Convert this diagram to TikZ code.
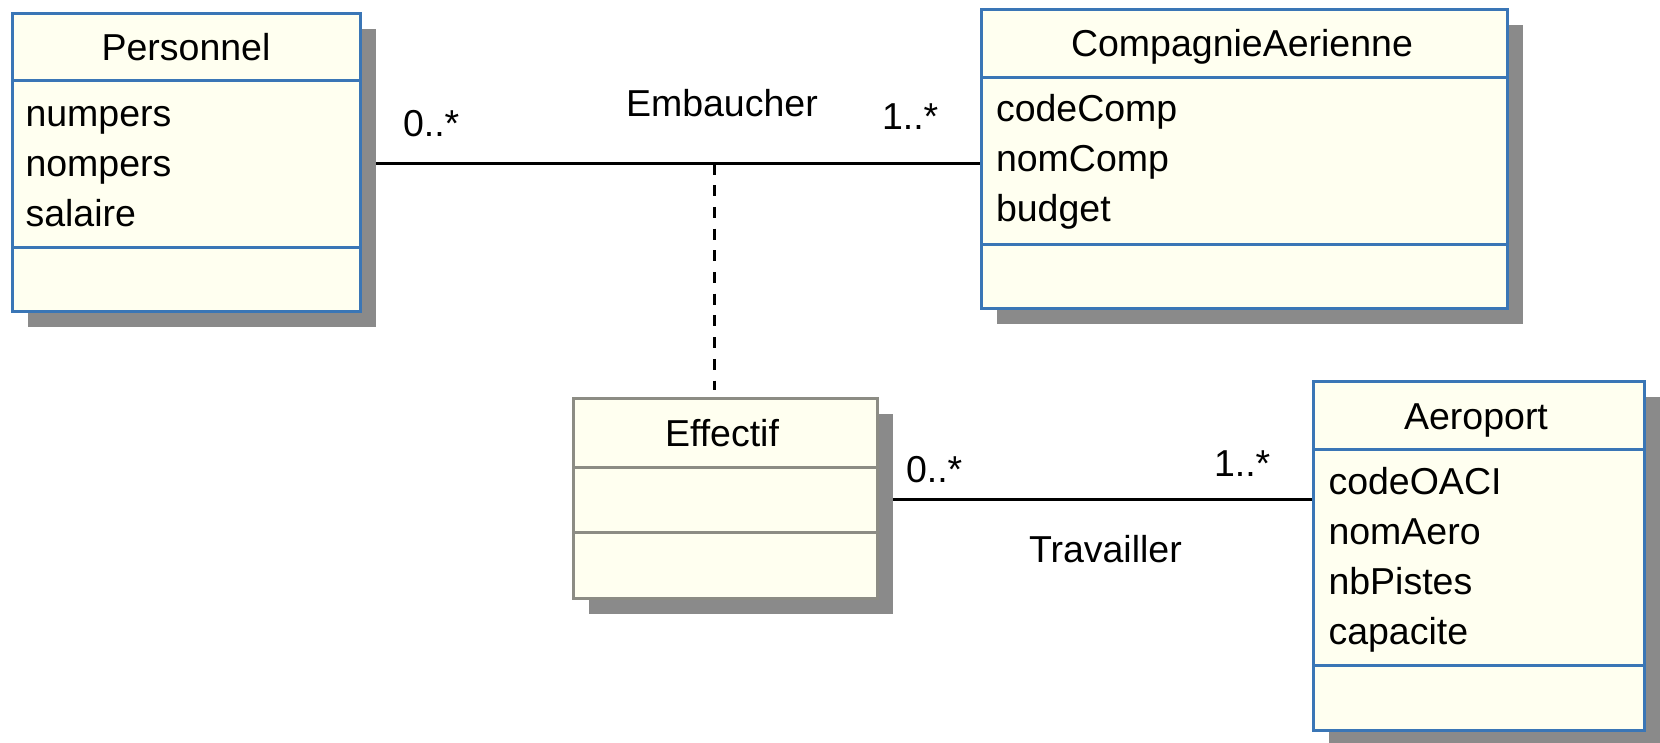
\documentclass[tikz,border=0pt]{standalone}
\usepackage{fontspec}
\setmainfont{Liberation Sans}
\usetikzlibrary{shadows,backgrounds,calc}

\definecolor{umlblue}{HTML}{3A76B6}
\definecolor{umlfill}{HTML}{FFFFF0}
\definecolor{umlgray}{HTML}{8C8C84}
\definecolor{shadowgray}{HTML}{8A8A8A}

\tikzset{
  classbox/.style={draw=umlblue, line width=3pt, fill=umlfill,
    inner sep=0pt, outer sep=0pt,
    drop shadow={shadow xshift=16pt, shadow yshift=-16pt,
      fill=shadowgray, opacity=1}},
  assocbox/.style={classbox, draw=umlgray},
  divider/.style={draw=umlblue, line width=3pt},
  graydivider/.style={draw=umlgray, line width=3pt},
  txt/.style={inner sep=0pt, outer sep=0pt,
    font=\fontsize{37.5pt}{45pt}\selectfont},
  title/.style={txt, anchor=base},
  attr/.style={txt, anchor=base west},
  mult/.style={txt, anchor=base west},
  assocline/.style={draw=black, line width=3pt},
  assocdash/.style={draw=black, line width=3pt,
    dash pattern=on 11pt off 10.7pt}
}

\begin{document}
\begin{tikzpicture}[x=1pt, y=-1pt]
  \useasboundingbox (0,0) rectangle (1660,742);

  % ---- class Personnel ----
  \node[classbox, minimum width=348pt, minimum height=298pt] (pers) at (186,162) {};
  \draw[divider] (pers.west |- 0,80) -- (pers.east |- 0,80);
  \draw[divider] (pers.west |- 0,247) -- (pers.east |- 0,247);
  \node[title] (persT) at (186,60) {Personnel};
  \node[attr] (persA1) at (25.5,126) {numpers};
  \node[attr] (persA2) at (25.5,176) {nompers};
  \node[attr] (persA3) at (25.5,226.5) {salaire};

  % ---- class CompagnieAerienne ----
  \node[classbox, minimum width=526pt, minimum height=299pt] (comp) at (1244,158.5) {};
  \draw[divider] (comp.west |- 0,77) -- (comp.east |- 0,77);
  \draw[divider] (comp.west |- 0,244) -- (comp.east |- 0,244);
  \node[title] (compT) at (1242,56) {CompagnieAerienne};
  \node[attr] (compA1) at (996,121.5) {codeComp};
  \node[attr] (compA2) at (996,171.5) {nomComp};
  \node[attr] (compA3) at (996,221.5) {budget};

  % ---- association class Effectif ----
  \node[assocbox, minimum width=304pt, minimum height=200pt] (eff) at (725,498) {};
  \draw[graydivider] (eff.west |- 0,467.5) -- (eff.east |- 0,467.5);
  \draw[graydivider] (eff.west |- 0,532.5) -- (eff.east |- 0,532.5);
  \node[title] (effT) at (722,446.5) {Effectif};

  % ---- class Aeroport ----
  \node[classbox, minimum width=331pt, minimum height=349pt] (aero) at (1478.5,555.5) {};
  \draw[divider] (aero.west |- 0,449) -- (aero.east |- 0,449);
  \draw[divider] (aero.west |- 0,665) -- (aero.east |- 0,665);
  \node[title] (aeroT) at (1476,429) {Aeroport};
  \node[attr] (aeroA1) at (1328.5,494) {codeOACI};
  \node[attr] (aeroA2) at (1328.5,544) {nomAero};
  \node[attr] (aeroA3) at (1328.5,594) {nbPistes};
  \node[attr] (aeroA4) at (1328.5,644) {capacite};

  % ---- associations (behind the boxes and their shadows) ----
  \coordinate (embY) at (0,163.5);
  \coordinate (assoc) at (714,163.5);
  \coordinate (travY) at (0,499.5);
  \begin{scope}[on background layer]
    \fill[white] (0,0) rectangle (1660,742);
    \draw[assocline] (pers.east |- embY) -- (comp.west |- embY);
    \draw[assocdash, shorten >=8pt] (assoc) -- (assoc |- eff.north);
    \draw[assocline] (eff.east |- travY) -- (aero.west |- travY);
  \end{scope}

  % ---- association names and multiplicities ----
  \node[mult] (embName) at (626,116) {Embaucher};
  \node[mult] (embM1) at (403,136) {0..*};
  \node[mult] (embM2) at (882,129) {1..*};
  \node[mult] (travName) at (1029,562) {Travailler};
  \node[mult] (travM1) at (906,482) {0..*};
  \node[mult] (travM2) at (1214,476.5) {1..*};
\end{tikzpicture}
\end{document}
